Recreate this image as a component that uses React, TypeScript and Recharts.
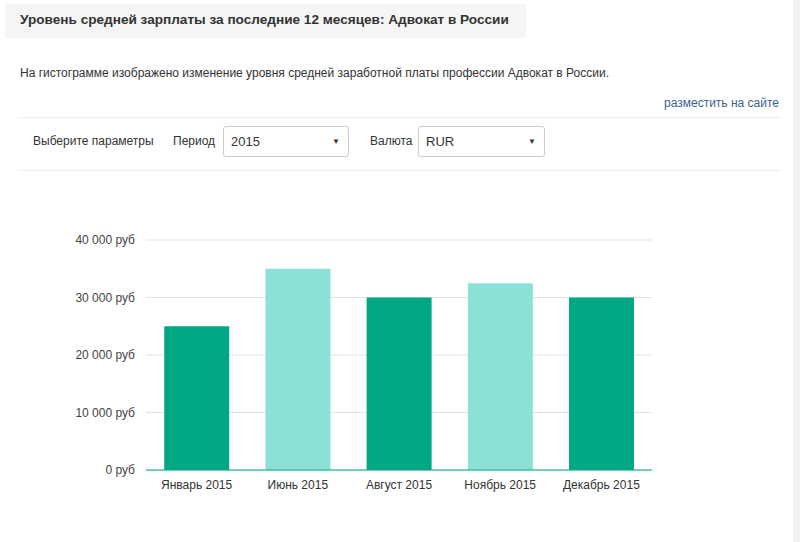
import React from 'react';
import { BarChart, Bar, XAxis, YAxis, CartesianGrid, Cell } from 'recharts';

const months = ['Январь 2015', 'Июнь 2015', 'Август 2015', 'Ноябрь 2015', 'Декабрь 2015'];
const salaries = [25000, 35000, 30000, 32500, 30000];
const yTicks = [0, 10000, 20000, 30000, 40000];

const DARK = '#00a884';
const LIGHT = '#8ce1d6';
const FONT = '"Liberation Sans", Arial, sans-serif';

const data = months.map((month, i) => ({ month, salary: salaries[i] }));

const fmtRub = (v: number) => `${v.toLocaleString('ru-RU').replace(/\s/g, ' ')} руб`;

function Select({ left, width, value }: { left: number; width: number; value: string }) {
  return (
    <div
      style={{
        position: 'absolute', left, top: 126, width, height: 31, boxSizing: 'border-box',
        border: '1px solid #cccccc', borderRadius: 3, background: '#fff',
        fontSize: 13, color: '#333', lineHeight: '29px', paddingLeft: 7,
      }}
    >
      {value}
      <span style={{ position: 'absolute', right: 8, top: 0, fontSize: 8 }}>▼</span>
    </div>
  );
}

export default function App() {
  return (
    <div style={{ position: 'absolute', left: 0, top: 0, width: 800, height: 542, background: '#fff', fontFamily: FONT, overflow: 'hidden' }}>
      <div style={{ position: 'absolute', right: 0, top: 0, width: 7, height: 542, background: '#f2f2f2' }} />
      <div style={{ position: 'absolute', left: 5, top: 4, width: 521, height: 34, background: '#f5f5f5' }} />
      <div style={{ position: 'absolute', left: 20, top: 12, fontSize: 13.6, fontWeight: 'bold', color: '#333' }}>
        Уровень средней зарплаты за последние 12 месяцев: Адвокат в России
      </div>
      <div style={{ position: 'absolute', left: 20, top: 66, fontSize: 12, color: '#333' }}>
        На гистограмме изображено изменение уровня средней заработной платы профессии Адвокат в России.
      </div>
      <div style={{ position: 'absolute', right: 21, top: 96, fontSize: 12, color: '#3b5f8f' }}>
        разместить на сайте
      </div>
      <div style={{ position: 'absolute', left: 18, top: 117, width: 762, height: 1, background: '#eeeeee' }} />
      <div style={{ position: 'absolute', left: 18, top: 170, width: 762, height: 1, background: '#eeeeee' }} />
      <div style={{ position: 'absolute', left: 33, top: 134, fontSize: 12, color: '#333' }}>Выберите параметры</div>
      <div style={{ position: 'absolute', left: 173, top: 134, fontSize: 12, color: '#333' }}>Период</div>
      <Select left={223} width={126} value="2015" />
      <div style={{ position: 'absolute', left: 370, top: 134, fontSize: 12, color: '#333' }}>Валюта</div>
      <Select left={418} width={127} value="RUR" />

      <div style={{ position: 'absolute', left: 0, top: 200 }}>
        <BarChart
          width={702}
          height={320}
          data={data}
          margin={{ top: 40, right: 50, bottom: 20, left: 0 }}
          barCategoryGap="18%"
        >
          <CartesianGrid vertical={false} stroke="#e2e2e2" />
          <XAxis
            dataKey="month"
            axisLine={{ stroke: DARK }}
            tickLine={false}
            tickMargin={4}
            tick={{ fill: '#333', fontSize: 12, fontFamily: FONT }}
            height={30}
          />
          <YAxis
            width={146}
            domain={[0, 40000]}
            ticks={yTicks}
            tickFormatter={fmtRub}
            axisLine={false}
            tickLine={false}
            tickMargin={5}
            tick={{ fill: '#444', fontSize: 12, fontFamily: FONT }}
          />
          <Bar dataKey="salary" isAnimationActive={false}>
            {data.map((d, i) => (
              <Cell key={d.month} fill={i % 2 === 0 ? DARK : LIGHT} />
            ))}
          </Bar>
        </BarChart>
      </div>
    </div>
  );
}
